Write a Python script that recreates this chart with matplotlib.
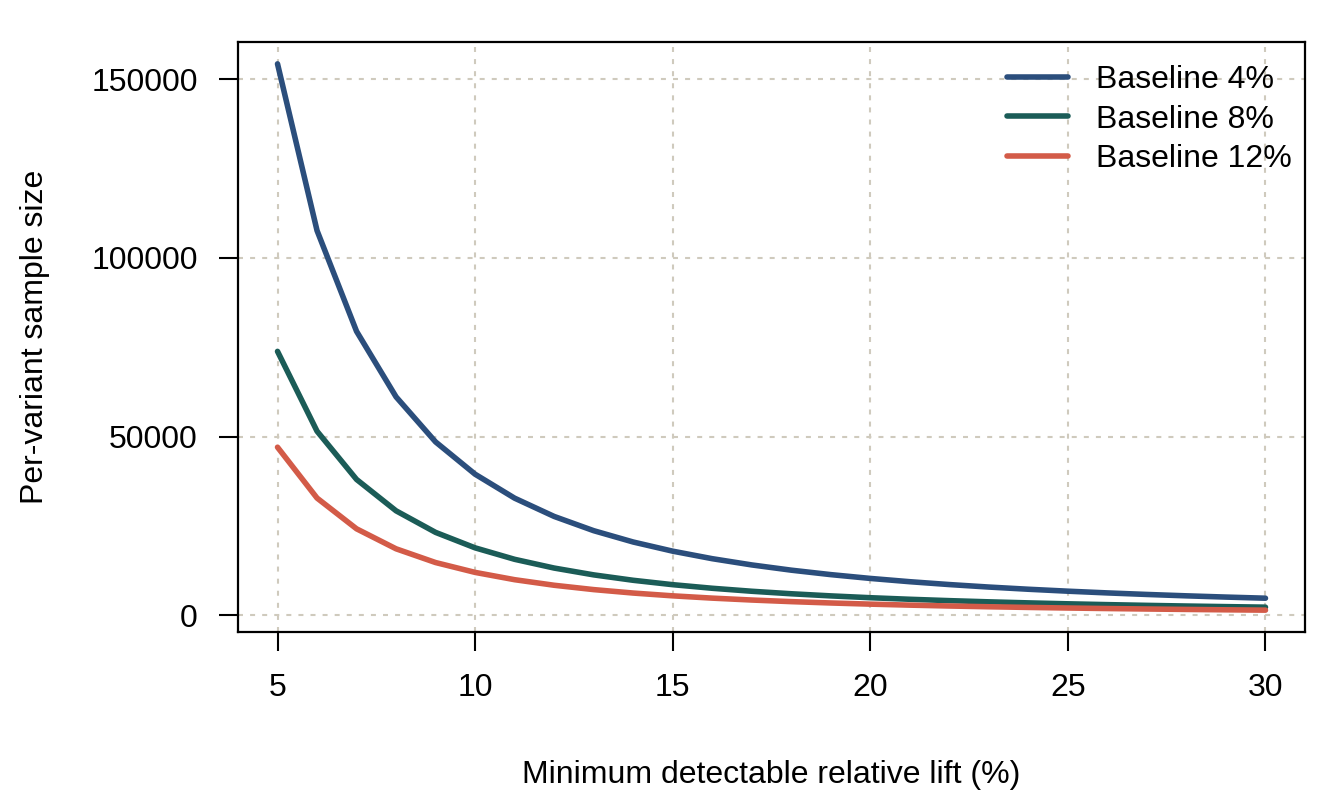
import matplotlib
matplotlib.use("Agg")
import matplotlib.pyplot as plt

# minimum detectable relative lift (%)
lift = [5, 6, 7, 8, 9, 10, 11, 12, 13, 14, 15, 16, 17, 18, 19, 20,
        21, 22, 23, 24, 25, 26, 27, 28, 29, 30]

# per-variant sample size
n_base4 = [154303, 107651, 79459, 61116, 48510, 39473, 32770, 27660, 23674,
           20504, 17940, 15837, 14091, 12623, 11379, 10314, 9395, 8597, 7899,
           7285, 6742, 6260, 5829, 5442, 5094, 4780]
n_base8 = [73851, 51512, 38012, 29230, 23195, 18869, 15661, 13216, 11308,
           9791, 8565, 7559, 6724, 6022, 5427, 4917, 4478, 4097, 3763, 3470,
           3210, 2980, 2774, 2589, 2423, 2273]
n_base12 = [47034, 32798, 24196, 18601, 14757, 12001, 9958, 8401, 7186,
            6221, 5440, 4800, 4268, 3821, 3443, 3119, 2839, 2597, 2384, 2198,
            2033, 1886, 1755, 1638, 1532, 1437]

labels = ["Baseline 4%", "Baseline 8%", "Baseline 12%"]
colors = ["#2B4E7C", "#1B5C57", "#D35B48"]

xticks = [5, 10, 15, 20, 25, 30]
yticks = [0, 50000, 100000, 150000]

plt.rcParams["font.family"] = ["Liberation Sans", "DejaVu Sans"]
fs = 23

fig = plt.figure(figsize=(13.44, 8.06), dpi=100)
ax = fig.add_axes([238/1344, 174/806, 1067/1344, 590/806])

for y, lab, c in zip([n_base4, n_base8, n_base12], labels, colors):
    ax.plot(lift, y, color=c, lw=4.0, label=lab, zorder=3,
            solid_capstyle="round", solid_joinstyle="round")

# R style 4% range extension
allv = n_base4 + n_base8 + n_base12
ylo, yhi = min(allv), max(allv)
xr = max(lift) - min(lift)
ax.set_xlim(min(lift) - 0.04*xr, max(lift) + 0.04*xr)
ax.set_ylim(ylo - 0.04*(yhi - ylo), yhi + 0.04*(yhi - ylo))

ax.set_xticks(xticks)
ax.set_yticks(yticks)
ax.set_yticklabels([str(v) for v in yticks])
ax.grid(True, color="#CFCABD", lw=1.5, linestyle=(0, (2.4, 3.4)), zorder=0)
ax.set_axisbelow(True)

ax.tick_params(axis="both", direction="out", length=14, width=1.5,
               labelsize=fs, colors="black")
ax.tick_params(axis="x", pad=15.5)
ax.tick_params(axis="y", pad=15)
for s in ax.spines.values():
    s.set_linewidth(1.6)
    s.set_color("black")

fig.text(771/1344, 1 - 775/806, "Minimum detectable relative lift (%)",
         ha="center", va="center", fontsize=fs)
fig.text(35/1344, 1 - 337/806, "Per-variant sample size", rotation=90,
         ha="center", va="center", fontsize=fs)

ax.legend(loc="upper left", bbox_to_anchor=(1007/1344, 1 - 65/806),
          bbox_transform=fig.transFigure, frameon=False, fontsize=fs,
          handlelength=1.9, handletextpad=0.9, labelspacing=0.30,
          borderpad=0, borderaxespad=0)

fig.savefig("out.png", dpi=100)
